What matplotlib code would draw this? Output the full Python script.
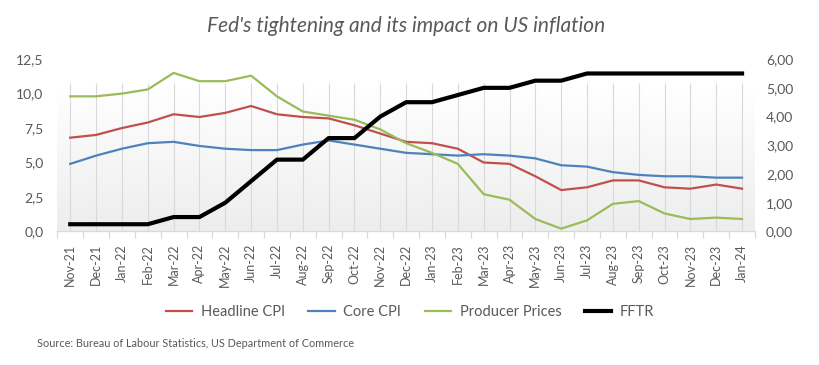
"""Fed's tightening and its impact on US inflation - CPI, core CPI, PPI vs FFTR."""

import matplotlib

matplotlib.use("Agg")
import matplotlib.pyplot as plt
import numpy as np
from matplotlib.lines import Line2D
from matplotlib.ticker import FixedLocator, FuncFormatter

MONTHS = [
    "Nov-21", "Dec-21", "Jan-22", "Feb-22", "Mar-22", "Apr-22", "May-22", "Jun-22",
    "Jul-22", "Aug-22", "Sep-22", "Oct-22", "Nov-22", "Dec-22", "Jan-23", "Feb-23",
    "Mar-23", "Apr-23", "May-23", "Jun-23", "Jul-23", "Aug-23", "Sep-23", "Oct-23",
    "Nov-23", "Dec-23", "Jan-24",
]
HEADLINE_CPI = [
    6.8, 7.0, 7.5, 7.9, 8.5, 8.3, 8.6, 9.1, 8.5, 8.3, 8.2, 7.7, 7.1, 6.5,
    6.4, 6.0, 5.0, 4.9, 4.0, 3.0, 3.2, 3.7, 3.7, 3.2, 3.1, 3.4, 3.1,
]
CORE_CPI = [
    4.9, 5.5, 6.0, 6.4, 6.5, 6.2, 6.0, 5.9, 5.9, 6.3, 6.6, 6.3, 6.0, 5.7,
    5.6, 5.5, 5.6, 5.5, 5.3, 4.8, 4.7, 4.3, 4.1, 4.0, 4.0, 3.9, 3.9,
]
PRODUCER_PRICES = [
    9.8, 9.8, 10.0, 10.3, 11.5, 10.9, 10.9, 11.3, 9.8, 8.7, 8.4, 8.1, 7.4, 6.4,
    5.7, 4.9, 2.7, 2.3, 0.9, 0.2, 0.8, 2.0, 2.2, 1.3, 0.9, 1.0, 0.9,
]
FFTR = [
    0.25, 0.25, 0.25, 0.25, 0.5, 0.5, 1.0, 1.75, 2.5, 2.5, 3.25, 3.25, 4.0, 4.5,
    4.5, 4.75, 5.0, 5.0, 5.25, 5.25, 5.5, 5.5, 5.5, 5.5, 5.5, 5.5, 5.5,
]

LEFT_TICKS = [0.0, 2.5, 5.0, 7.5, 10.0, 12.5]
RIGHT_TICKS = [0, 1, 2, 3, 4, 5, 6]

TEXT_GREY = "#595959"
GRID_GREY = "#d9d9d9"


def _comma(decimals):
    return FuncFormatter(lambda v, _: f"{v:.{decimals}f}".replace(".", ","))


def main() -> None:
    plt.rcParams["font.family"] = ["Lato", "DejaVu Sans"]

    fig = plt.figure(figsize=(8.2, 3.65), dpi=100)
    ax = fig.add_axes([0.0699, 0.366, 0.8508, 0.472])
    ax2 = ax.twinx()

    x = np.arange(len(MONTHS))
    ax.set_xlim(-0.5, len(MONTHS) - 0.5)
    ax.set_ylim(0, 12.5)
    ax2.set_ylim(0, 6)

    # soft gradient plot background, like the spreadsheet original
    grad_top = 10.4
    grad = np.linspace(1.0, 0.93, 256).reshape(-1, 1)
    ax.imshow(
        np.dstack([grad, grad, grad]),
        extent=(-0.5, len(MONTHS) - 0.5, 0, grad_top),
        aspect="auto",
        origin="upper",
        zorder=0,
        interpolation="bicubic",
    )
    ax.vlines(x, 0, 10.75, color=GRID_GREY, linewidth=0.8, zorder=1)

    ax.plot(x, HEADLINE_CPI, color="#c0504d", linewidth=1.6, zorder=3)
    ax.plot(x, CORE_CPI, color="#4f81bd", linewidth=1.6, zorder=3)
    ax.plot(x, PRODUCER_PRICES, color="#9bbb59", linewidth=1.6, zorder=3)
    ax2.plot(x, FFTR, color="black", linewidth=3.0, solid_joinstyle="round", zorder=4)

    for a in (ax, ax2):
        for side in ("top", "left", "right", "bottom"):
            a.spines[side].set_visible(False)
        a.patch.set_visible(False)
    ax.spines["bottom"].set_visible(True)
    ax.spines["bottom"].set_color(GRID_GREY)
    ax.spines["bottom"].set_linewidth(0.9)

    ax.set_xticks(x)
    ax.set_xticklabels(MONTHS, rotation=90, fontsize=9, color=TEXT_GREY)
    ax.tick_params(axis="x", which="major", length=0, pad=9)
    ax.xaxis.set_minor_locator(FixedLocator(np.arange(-0.5, len(MONTHS), 1.0)))
    ax.tick_params(axis="x", which="minor", length=5, color=GRID_GREY, width=0.9)

    ax.set_yticks(LEFT_TICKS)
    ax.yaxis.set_major_formatter(_comma(1))
    ax.tick_params(axis="y", length=0, labelsize=10, labelcolor=TEXT_GREY, pad=10)
    ax2.set_yticks(RIGHT_TICKS)
    ax2.yaxis.set_major_formatter(_comma(2))
    ax2.tick_params(axis="y", length=0, labelsize=10, labelcolor=TEXT_GREY, pad=8)

    fig.text(
        0.495, 0.93, "Fed's tightening and its impact on US inflation",
        ha="center", va="center", fontsize=15, style="italic", color=TEXT_GREY,
    )

    handles = [
        Line2D([], [], color="#c0504d", linewidth=1.6),
        Line2D([], [], color="#4f81bd", linewidth=1.6),
        Line2D([], [], color="#9bbb59", linewidth=1.6),
        Line2D([], [], color="black", linewidth=3.0),
    ]
    fig.legend(
        handles,
        ["Headline CPI", "Core CPI", "Producer Prices", "FFTR"],
        loc="center",
        bbox_to_anchor=(0.5, 0.146),
        ncol=4,
        frameon=False,
        fontsize=10.5,
        labelcolor=TEXT_GREY,
        handlelength=1.8,
        handletextpad=0.6,
        columnspacing=1.6,
    )

    fig.text(
        0.045, 0.06, "Source: Bureau of Labour Statistics, US Department of Commerce",
        ha="left", va="center", fontsize=7.8, color=TEXT_GREY,
    )

    fig.savefig("out.png", dpi=100)
    plt.close(fig)


if __name__ == "__main__":
    main()
